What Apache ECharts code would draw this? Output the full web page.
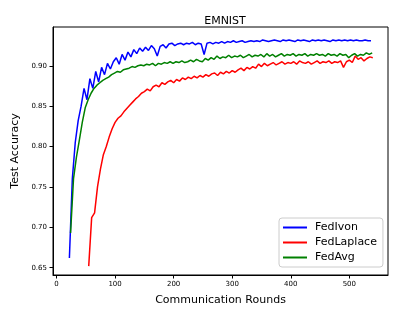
<!DOCTYPE html>
<html>
<head>
<meta charset="utf-8">
<script src="https://cdn.jsdelivr.net/npm/echarts@6/dist/echarts.min.js"></script>
<style>
html, body { margin: 0; padding: 0; background: #fff; }
#container { width: 400px; height: 320px; }
</style>
</head>
<body>
<div id="container"></div>
<script>
// rounds are sampled every 5 rounds, starting at the first logged round
var roundStep = 5;
var xTicks = [0, 100, 200, 300, 400, 500];
var yTicks = [0.65, 0.70, 0.75, 0.80, 0.85, 0.90];
var seriesNames = ['FedIvon', 'FedLaplace', 'FedAvg'];
var seriesColors = ['#0000ff', '#ff0000', '#008000'];
var startRounds = [22, 55, 24];

var fedIvon = [
  0.662, 0.760, 0.805, 0.832, 0.850, 0.872, 0.858, 0.884, 0.872, 0.893,
  0.880, 0.898, 0.889, 0.903, 0.896, 0.905, 0.910, 0.902, 0.914, 0.907,
  0.917, 0.911, 0.920, 0.915, 0.922, 0.918, 0.923, 0.919, 0.925, 0.921,
  0.912, 0.924, 0.926, 0.922, 0.927, 0.928, 0.925, 0.927, 0.928, 0.926,
  0.928, 0.927, 0.929, 0.926, 0.928, 0.927, 0.914, 0.928, 0.929, 0.927,
  0.929, 0.928, 0.930, 0.928, 0.930, 0.929, 0.931, 0.929, 0.930, 0.931,
  0.929, 0.930, 0.931, 0.930, 0.931, 0.930, 0.932, 0.931, 0.930, 0.931,
  0.932, 0.931, 0.930, 0.932, 0.931, 0.932, 0.931, 0.930, 0.932, 0.931,
  0.932, 0.931, 0.930, 0.932, 0.931, 0.932, 0.931, 0.932, 0.931, 0.930,
  0.932, 0.931, 0.932, 0.931, 0.932, 0.931, 0.932, 0.931, 0.932, 0.931,
  0.931, 0.932, 0.931, 0.931
];

var fedLaplace = [
  0.652, 0.712, 0.718, 0.750, 0.772, 0.790, 0.800, 0.812, 0.822, 0.830,
  0.835, 0.838, 0.843, 0.847, 0.851, 0.855, 0.859, 0.862, 0.866, 0.868,
  0.871, 0.869, 0.874, 0.876, 0.874, 0.879, 0.877, 0.880, 0.882, 0.879,
  0.883, 0.881, 0.885, 0.883, 0.886, 0.884, 0.887, 0.885, 0.888, 0.886,
  0.889, 0.887, 0.890, 0.891, 0.888, 0.892, 0.890, 0.893, 0.891, 0.894,
  0.892, 0.895, 0.897, 0.894, 0.898, 0.896, 0.899, 0.897, 0.902, 0.899,
  0.903, 0.900, 0.902, 0.904, 0.901, 0.903, 0.905, 0.902, 0.904, 0.903,
  0.905, 0.902, 0.906, 0.904, 0.903, 0.905, 0.902, 0.904, 0.906, 0.903,
  0.905, 0.904, 0.906, 0.903, 0.905, 0.904, 0.906, 0.898, 0.905, 0.907,
  0.904, 0.912, 0.908, 0.910, 0.906, 0.909, 0.911, 0.910
];

var fedAvg = [
  0.693, 0.760, 0.787, 0.808, 0.830, 0.848, 0.858, 0.866, 0.872, 0.876,
  0.879, 0.882, 0.884, 0.886, 0.889, 0.891, 0.893, 0.892, 0.895, 0.896,
  0.897, 0.899, 0.898, 0.900, 0.901, 0.900, 0.902, 0.901, 0.903, 0.900,
  0.903, 0.902, 0.904, 0.903, 0.905, 0.903, 0.905, 0.904, 0.906, 0.904,
  0.905, 0.907, 0.905, 0.908, 0.906, 0.905, 0.909, 0.907, 0.910, 0.908,
  0.912, 0.909, 0.911, 0.910, 0.913, 0.910, 0.912, 0.911, 0.913, 0.910,
  0.912, 0.914, 0.911, 0.913, 0.912, 0.914, 0.911, 0.915, 0.912, 0.914,
  0.911, 0.913, 0.915, 0.912, 0.914, 0.913, 0.915, 0.912, 0.914, 0.913,
  0.915, 0.912, 0.914, 0.913, 0.915, 0.913, 0.914, 0.912, 0.915, 0.913,
  0.914, 0.912, 0.915, 0.913, 0.914, 0.910, 0.913, 0.915, 0.912, 0.914,
  0.913, 0.916, 0.914, 0.916
];

var seriesValues = [fedIvon, fedLaplace, fedAvg];

function toPairs(values, start) {
  var out = [];
  for (var i = 0; i < values.length; i++) {
    out.push([start + i * roundStep, values[i]]);
  }
  return out;
}

var font = 'DejaVu Sans';
var dom = document.getElementById('container');
var myChart = echarts.init(dom, null, { renderer: 'canvas' });

var series = [];
for (var i = 0; i < seriesNames.length; i++) {
  series.push({
    name: seriesNames[i],
    type: 'line',
    data: toPairs(seriesValues[i], startRounds[i]),
    showSymbol: false,
    symbol: 'none',
    animation: false,
    lineStyle: { color: seriesColors[i], width: 1.5 },
    itemStyle: { color: seriesColors[i] }
  });
}

var option = {
  backgroundColor: '#fff',
  animation: false,
  title: {
    text: 'EMNIST',
    left: 220,
    top: 11,
    textAlign: 'center',
    textStyle: { fontFamily: font, fontSize: 11, fontWeight: 'normal', color: '#000' }
  },
  grid: {
    left: 53, right: 12, top: 27, bottom: 45,
    show: true, borderColor: '#000', borderWidth: 1, backgroundColor: 'transparent'
  },
  legend: {
    orient: 'vertical',
    left: 279,
    top: 218,
    data: seriesNames,
    icon: 'rect',
    itemWidth: 24,
    itemHeight: 2,
    itemGap: 4,
    padding: [4, 6, 4, 4],
    backgroundColor: '#fff',
    borderColor: '#cccccc',
    borderWidth: 1,
    borderRadius: 3,
    textStyle: { fontFamily: font, fontSize: 11, color: '#000', padding: [0, 0, 0, 3] }
  },
  xAxis: {
    type: 'value',
    min: -6,
    max: 566,
    name: 'Communication Rounds',
    nameLocation: 'middle',
    nameGap: 20,
    nameTextStyle: { fontFamily: font, fontSize: 11, color: '#000' },
    axisLine: { show: true, onZero: false, lineStyle: { color: '#000', width: 1 } },
    axisTick: { show: true, length: 3.5, customValues: xTicks, lineStyle: { color: '#000' } },
    axisLabel: { customValues: xTicks, fontFamily: font, fontSize: 7, color: '#000', margin: 6 },
    splitLine: { show: false }
  },
  yAxis: {
    type: 'value',
    min: 0.641,
    max: 0.948,
    name: 'Test Accuracy',
    nameLocation: 'middle',
    nameGap: 29,
    nameTextStyle: { fontFamily: font, fontSize: 11, color: '#000' },
    axisLine: { show: true, onZero: false, lineStyle: { color: '#000', width: 1 } },
    axisTick: { show: true, length: 3.5, customValues: yTicks, lineStyle: { color: '#000' } },
    axisLabel: {
      customValues: yTicks, fontFamily: font, fontSize: 7, color: '#000', margin: 6,
      formatter: function (v) { return v.toFixed(2); }
    },
    splitLine: { show: false }
  },
  series: series
};

myChart.setOption(option);
</script>
</body>
</html>
